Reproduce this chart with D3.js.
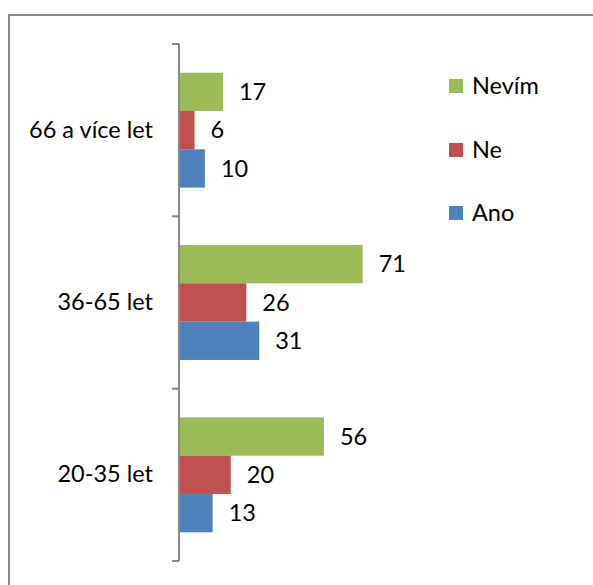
<!DOCTYPE html>
<html><head><meta charset="utf-8">
<script src="https://cdn.jsdelivr.net/npm/d3@7"></script>
<style>body{margin:0;background:#fff}svg{display:block}text{font-family:Lato,"Open Sans",sans-serif;fill:#000}</style>
</head><body><div id="c"></div>
<script>
const categories = ["66 a více let", "36-65 let", "20-35 let"];
const seriesNames = ["Nevím", "Ne", "Ano"];
const colors = ["#9BBB59", "#C0504D", "#4F81BD"];
const nevim = [17, 71, 56];
const ne = [6, 26, 20];
const ano = [10, 31, 13];
const seriesValues = [nevim, ne, ano];

const W = 593, H = 585;
const svg = d3.select("#c").append("svg").attr("width", W).attr("height", H);
svg.append("rect").attr("x", 9).attr("y", 15).attr("width", 600).attr("height", 600)
  .attr("fill", "none").attr("stroke", "#8c8c8c").attr("stroke-width", 2);

const y0 = d3.scaleBand().domain(categories).range([44, 561]).paddingInner(1/3).paddingOuter(1/6);
const y1 = d3.scaleBand().domain(seriesNames).range([0, y0.bandwidth()]);
const x = d3.scaleLinear().domain([0, 80]).range([179, 386]);

const fs = 23.5;
categories.forEach((c, i) => {
  const g = svg.append("g");
  seriesNames.forEach((s, j) => {
    const v = seriesValues[j][i];
    const yy = y0(c) + y1(s);
    g.append("rect").attr("x", x(0)).attr("y", yy).attr("width", x(v) - x(0)).attr("height", y1.bandwidth())
      .attr("fill", colors[j]);
    g.append("text").attr("x", x(v) + 16).attr("y", yy + y1.bandwidth() / 2).attr("dy", "0.35em")
      .attr("font-size", fs).text(v);
  });
});

// axis
const axisG = svg.append("g").attr("transform", `translate(${x(0)},0)`);
axisG.call(d3.axisLeft(y0).tickSize(0).tickPadding(26));
axisG.select(".domain").remove();
axisG.selectAll("text").attr("font-size", fs).style("font-family", "Lato,'Open Sans',sans-serif").attr("fill", "#000");
axisG.append("line").attr("x1", 0).attr("x2", 0).attr("y1", 44).attr("y2", 561).attr("stroke", "#888").attr("stroke-width", 2);
const tickYs = [44, 561].concat(categories.slice(1).map(c => y0(c) - y0.step() * y0.paddingInner() / 2));
tickYs.forEach(t => axisG.append("line").attr("x1", -7).attr("x2", 0).attr("y1", t).attr("y2", t)
  .attr("stroke", "#888").attr("stroke-width", 2));

// legend
const legY = [86, 150, 213];
seriesNames.forEach((s, j) => {
  svg.append("rect").attr("x", 449).attr("y", legY[j] - 7).attr("width", 14).attr("height", 14).attr("fill", colors[j]);
  svg.append("text").attr("x", 472).attr("y", legY[j]).attr("dy", "0.35em").attr("font-size", fs).text(s);
});
</script></body></html>
